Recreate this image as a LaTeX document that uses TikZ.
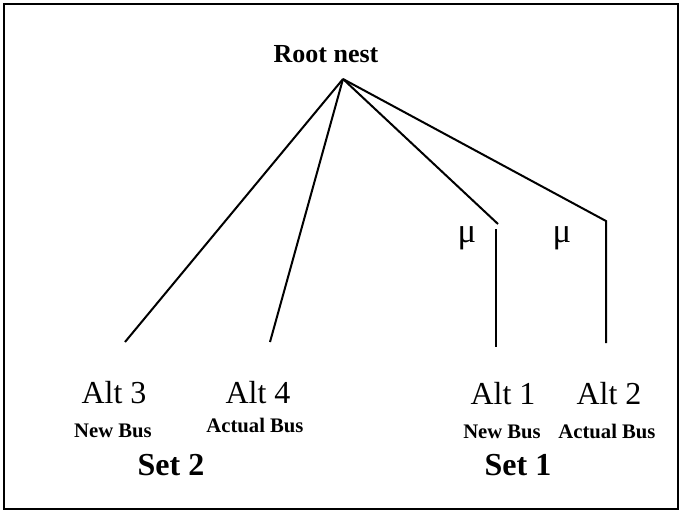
\documentclass[tikz,border=0pt]{standalone}
\usepackage{fontspec}
\setmainfont{Liberation Serif}

\begin{document}
\begin{tikzpicture}[
    x=0.75pt, y=-0.75pt,
    branch/.style={line width=1.5pt},
    frame_box/.style={line width=1.8pt},
    root_text/.style={font=\bfseries\fontsize{19.5}{23}\selectfont, inner sep=0pt, anchor=base},
    alt_text/.style={font=\fontsize{24}{28}\selectfont, inner sep=0pt, anchor=base},
    bus_text/.style={font=\bfseries\fontsize{15.5}{18}\selectfont, inner sep=0pt, anchor=base},
    set_text/.style={font=\bfseries\fontsize{24}{28}\selectfont, inner sep=0pt, anchor=base},
    mu_text/.style={font=\fontsize{26}{30}\selectfont, inner sep=0pt, anchor=base}
]

% Frame
\useasboundingbox (0,0) rectangle (681,512);
\draw[frame_box] (4,4) rectangle (678,509);

% Root of the tree
\node (root_node) at (326,62) [root_text] {Root nest};
\coordinate (apex) at (343,79);

% Branch ends
\coordinate (end_three) at (125,342);
\coordinate (end_four) at (270,342);
\coordinate (bend_one) at (498,224);
\coordinate (top_one) at (496,229);
\coordinate (foot_one) at (496,347);
\coordinate (bend_two) at (606,221);
\coordinate (foot_two) at (606,343);

% Branches
\draw[branch] (apex) -- (end_three);
\draw[branch] (apex) -- (end_four);
\draw[branch] (apex) -- (bend_one);
\draw[branch] (top_one) -- (foot_one);
\draw[branch] (apex) -- (bend_two) -- (foot_two);

% Scale parameters
\node (mu_one) at (467,242) [mu_text] {μ};
\node (mu_two) at (562,242) [mu_text] {μ};

% Alternatives
\node (alt_three) at (114,403) [alt_text] {Alt 3};
\node (alt_four) at (258,403) [alt_text] {Alt 4};
\node (alt_one) at (503,404) [alt_text] {Alt 1};
\node (alt_two) at (609,404) [alt_text] {Alt 2};

\node (bus_three) at (113,437) [bus_text] {New Bus};
\node (bus_four) at (255,432) [bus_text] {Actual Bus};
\node (bus_one) at (502,438) [bus_text] {New Bus};
\node (bus_two) at (607,438) [bus_text] {Actual Bus};

% Sets
\node (set_two) at (171,475) [set_text] {Set 2};
\node (set_one) at (518,475) [set_text] {Set 1};

\end{tikzpicture}
\end{document}
